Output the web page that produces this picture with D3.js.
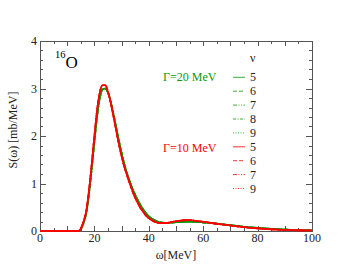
<!DOCTYPE html>
<html><head><meta charset="utf-8">
<script src="https://cdn.jsdelivr.net/npm/d3@7/dist/d3.min.js"></script>
<style>body{margin:0;background:#fff}svg{display:block}</style>
</head><body><svg id="c" width="352" height="272" font-family="Liberation Serif"></svg>
<script>
const omega = [0,14,15,16,17,18,19,20,21,22,23,24,25,26,27,28,29,30,31,32,33,34,35,36,37,38,39,40,42,44,46,48,50,52,54,56,58,60,64,68,72,76,80,85,90,95,100];
const sGamma10 = [0,0,0.05,0.2,0.42,0.85,1.4,2.0,2.55,2.92,3.07,3.07,2.93,2.7,2.42,2.12,1.83,1.57,1.35,1.17,1.0,0.84,0.7,0.58,0.48,0.4,0.32,0.27,0.2,0.165,0.165,0.185,0.205,0.22,0.23,0.225,0.21,0.195,0.16,0.13,0.1,0.075,0.055,0.035,0.022,0.014,0.01];
const sGamma20 = [0,0,0.04,0.17,0.38,0.78,1.3,1.88,2.42,2.8,2.98,3.0,2.91,2.72,2.46,2.18,1.9,1.64,1.41,1.21,1.04,0.89,0.76,0.64,0.54,0.45,0.37,0.31,0.23,0.185,0.17,0.175,0.185,0.19,0.195,0.195,0.19,0.18,0.16,0.135,0.11,0.085,0.065,0.045,0.03,0.02,0.012];
const nu20 = ["5","6","7","8","9"];
const nu10 = ["5","6","7","9"];
const xTickLabels = [0,20,40,60,80,100];
const yTickLabels = [0,1,2,3,4];

const dashes = {"5":null,"6":"4,2","7":"4,1.5,1,1.5,1,1.5","8":"3,1.5,1,1.5","9":"1,1.5"};
const green = "#0a9a0a", red = "#ff0000";

const svg = d3.select("#c");
const L=40, R=312, T=41, B=231;
const x = d3.scaleLinear().domain([0,100]).range([L,R]);
const y = d3.scaleLinear().domain([0,4]).range([B,T]);
const axisCol = "#555";
const fs = 12;

svg.append("rect").attr("x",L+0.5).attr("y",T+0.5).attr("width",R-L).attr("height",B-T)
  .attr("fill","none").attr("stroke",axisCol).attr("stroke-width",1);

const g = svg.append("g").attr("stroke",axisCol).attr("stroke-width",1);
d3.range(0,101,5).forEach(v=>{
  const len = v%10===0?5:3;
  const px = Math.round(x(v))+0.5;
  g.append("line").attr("x1",px).attr("x2",px).attr("y1",B).attr("y2",B-len);
  g.append("line").attr("x1",px).attr("x2",px).attr("y1",T).attr("y2",T+len);
});
d3.range(0,21,1).forEach(i=>{
  const v=i*0.2;
  const len = i%5===0?6:3;
  const py = Math.round(y(v))+0.5;
  g.append("line").attr("x1",L).attr("x2",L+len).attr("y1",py).attr("y2",py);
  g.append("line").attr("x1",R).attr("x2",R-len).attr("y1",py).attr("y2",py);
});

xTickLabels.forEach(v=>{
  svg.append("text").attr("x",x(v)).attr("y",B+10.5).attr("text-anchor","middle")
    .attr("font-size",fs).attr("fill","#222").text(v);
});
yTickLabels.forEach(v=>{
  svg.append("text").attr("x",L-3).attr("y",y(v)+4).attr("text-anchor","end")
    .attr("font-size",fs).attr("fill","#222").text(v);
});

svg.append("text").attr("x",176).attr("y",259).attr("text-anchor","middle")
  .attr("font-size",fs).attr("fill","#222").text("ω[MeV]");
svg.append("text").attr("transform","translate(17,130) rotate(-90)").attr("text-anchor","middle")
  .attr("font-size",fs).attr("fill","#222").text("S(ω) [mb/MeV]");

const line = d3.line().x((d,i)=>x(omega[i])).y(d=>y(d)).curve(d3.curveMonotoneX);
function drawSet(vals, nus, col){
  nus.forEach(n=>{
    svg.append("path").attr("d",line(vals)).attr("fill","none").attr("stroke",col)
      .attr("stroke-width",1.6).attr("stroke-dasharray",dashes[n]);
  });
}
drawSet(sGamma20, nu20, green);
drawSet(sGamma10, nu10, red);

const o = svg.append("text").attr("x",55).attr("y",68).attr("fill","#000");
o.append("tspan").attr("font-size",10.5).attr("dy",-10).text("16");
o.append("tspan").attr("font-size",17).attr("dy",10).text("O");
svg.append("text").attr("x",163).attr("y",81).attr("font-size",fs).attr("fill",green).text("Γ=20 MeV");
svg.append("text").attr("x",163).attr("y",152).attr("font-size",fs).attr("fill",red).text("Γ=10 MeV");

svg.append("text").attr("x",250).attr("y",62).attr("font-size",fs).attr("fill","#222").text("ν");
const rows = nu20.map(n=>({n,col:green})).concat(nu10.map(n=>({n,col:red})));
rows.forEach((r,i)=>{
  const cy = 77.3 + i*13.9;
  svg.append("line").attr("x1",233).attr("x2",245).attr("y1",cy).attr("y2",cy)
    .attr("stroke",r.col).attr("stroke-width",1).attr("stroke-dasharray",dashes[r.n]).attr("opacity",0.8);
  svg.append("text").attr("x",250).attr("y",cy+4).attr("font-size",fs).attr("fill","#222").text(r.n);
});
</script></body></html>
